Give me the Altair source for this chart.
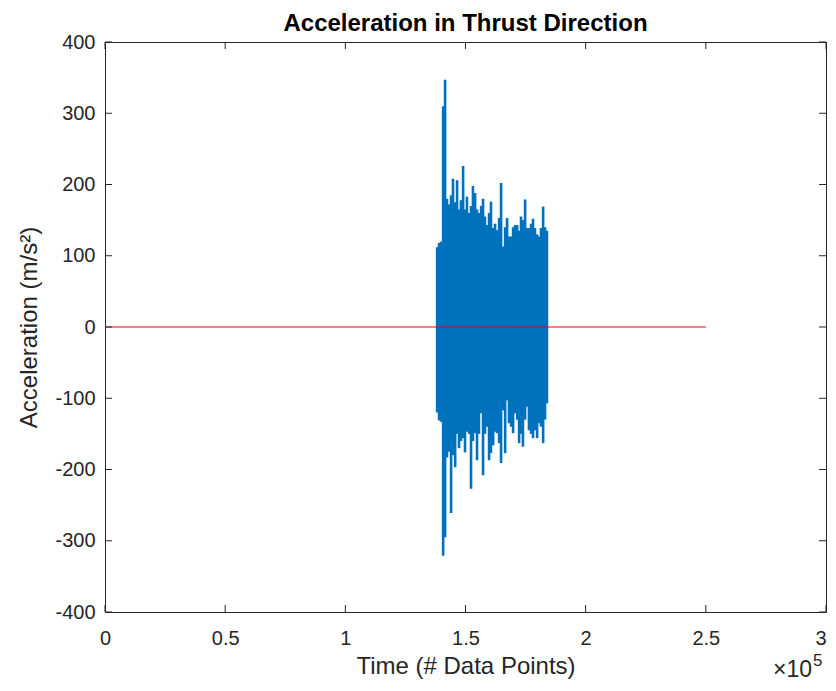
import altair as alt
import pandas as pd

# Burst envelope (data-point index, upper and lower extremes in m/s^2)
burst_x = [138200, 139000, 139800, 140700, 141500, 142300, 143200, 144000, 144800, 145700,
           146500, 147300, 148100, 149000, 149800, 150600, 151500, 152300, 153100, 154000,
           154800, 155600, 156500, 157300, 158100, 159000, 159800, 160600, 161500, 162300,
           163100, 164000, 164800, 165600, 166500, 167300, 168100, 169000, 169800, 170600,
           171500, 172300, 173100, 173900, 174800, 175600, 176400, 177300, 178100, 178900,
           179800, 180600, 181400, 182300, 183100, 183900]
burst_hi = [112, 118, 120, 310, 347, 180, 172, 185, 208, 175,
            206, 165, 178, 226, 165, 183, 160, 170, 198, 188,
            165, 160, 170, 180, 155, 143, 160, 176, 139, 145,
            136, 153, 202, 113, 140, 153, 127, 127, 140, 143,
            143, 135, 155, 150, 179, 139, 139, 145, 152, 139,
            130, 127, 139, 169, 140, 135]
burst_lo = [-120, -131, -133, -321, -295, -183, -175, -261, -180, -197,
            -150, -170, -160, -156, -176, -147, -150, -227, -160, -149,
            -187, -150, -121, -208, -150, -140, -187, -177, -166, -147,
            -149, -163, -191, -117, -177, -103, -135, -140, -149, -121,
            -130, -163, -150, -168, -130, -112, -145, -150, -156, -145,
            -156, -135, -140, -163, -130, -107]

# Red reference line
ref_x = [0, 250000]
ref_y = [0, 0]

# Axis ticks
x_ticks = [0, 50000, 100000, 150000, 200000, 250000, 300000]
y_ticks = [-400, -300, -200, -100, 0, 100, 200, 300, 400]

W, H = 721, 570
TL = 7
INK = "#262626"
FONT = "Liberation Sans"

df_burst = pd.DataFrame({"x": burst_x, "hi": burst_hi, "lo": burst_lo})
df_ref = pd.DataFrame({"x": ref_x, "y": ref_y})
df_xt = pd.DataFrame({"t": x_ticks})
df_yt = pd.DataFrame({"t": y_ticks})

xscale = alt.Scale(domain=[0, 300000], nice=False, zero=False)
yscale = alt.Scale(domain=[-400, 400], nice=False, zero=False)

xaxis = alt.Axis(values=x_ticks, labelExpr="datum.value / 100000 + ''",
                 labelAlign={"condition": {"test": "datum.value >= 300000", "value": "right"},
                             "value": "center"},
                 title="Time (# Data Points)", labelPadding=16, titlePadding=6,
                 labelFlush=False, ticks=False, domain=False, grid=False)
yaxis = alt.Axis(values=y_ticks, labelExpr="datum.value + ''", title="Acceleration (m/s²)",
                 labelPadding=10, titlePadding=13, labelFlush=False,
                 ticks=False, domain=False, grid=False)

burst = alt.Chart(df_burst).mark_rule(color="#0072BD", strokeWidth=2.6).encode(
    x=alt.X("x:Q", scale=xscale, axis=xaxis),
    y=alt.Y("hi:Q", scale=yscale, axis=yaxis),
    y2="lo:Q",
)

ref = alt.Chart(df_ref).mark_line(color="#F00000", strokeWidth=1.1).encode(
    x=alt.X("x:Q", scale=xscale, axis=xaxis),
    y=alt.Y("y:Q", scale=yscale, axis=yaxis),
)

tick_bottom = alt.Chart(df_xt).mark_rule(color=INK, strokeWidth=1).encode(
    x=alt.X("t:Q", scale=xscale, axis=xaxis), y=alt.value(H), y2=alt.value(H - TL))
tick_top = alt.Chart(df_xt).mark_rule(color=INK, strokeWidth=1).encode(
    x=alt.X("t:Q", scale=xscale, axis=xaxis), y=alt.value(0), y2=alt.value(TL))
tick_left = alt.Chart(df_yt).mark_rule(color=INK, strokeWidth=1).encode(
    y=alt.Y("t:Q", scale=yscale, axis=yaxis), x=alt.value(0), x2=alt.value(TL))
tick_right = alt.Chart(df_yt).mark_rule(color=INK, strokeWidth=1).encode(
    y=alt.Y("t:Q", scale=yscale, axis=yaxis), x=alt.value(W - TL), x2=alt.value(W))

exp_base = alt.Chart(pd.DataFrame({"s": ["×10"]})).mark_text(
    align="right", baseline="alphabetic", font=FONT, fontSize=23, color=INK
).encode(text="s:N", x=alt.value(W - 14), y=alt.value(H + 65))
exp_sup = alt.Chart(pd.DataFrame({"s": ["5"]})).mark_text(
    align="left", baseline="alphabetic", font=FONT, fontSize=17, color=INK
).encode(text="s:N", x=alt.value(W - 13), y=alt.value(H + 54))

chart = alt.layer(burst, ref, tick_bottom, tick_top, tick_left, tick_right, exp_base, exp_sup).properties(
    width=W, height=H,
    title=alt.TitleParams("Acceleration in Thrust Direction", fontSize=24, fontWeight="bold",
                          font=FONT, color="#000000", anchor="middle", offset=-4),
    padding={"left": 97, "top": 34, "right": 2, "bottom": 71},
    autosize=alt.AutoSizeParams(type="none"),
).configure_view(stroke=INK, strokeWidth=1).configure_axis(
    labelFont=FONT, labelFontSize=20, labelColor=INK,
    titleFont=FONT, titleFontSize=24, titleFontWeight="normal", titleColor=INK,
)

chart.save("out.html", embed_options={"renderer": "svg", "actions": False})
